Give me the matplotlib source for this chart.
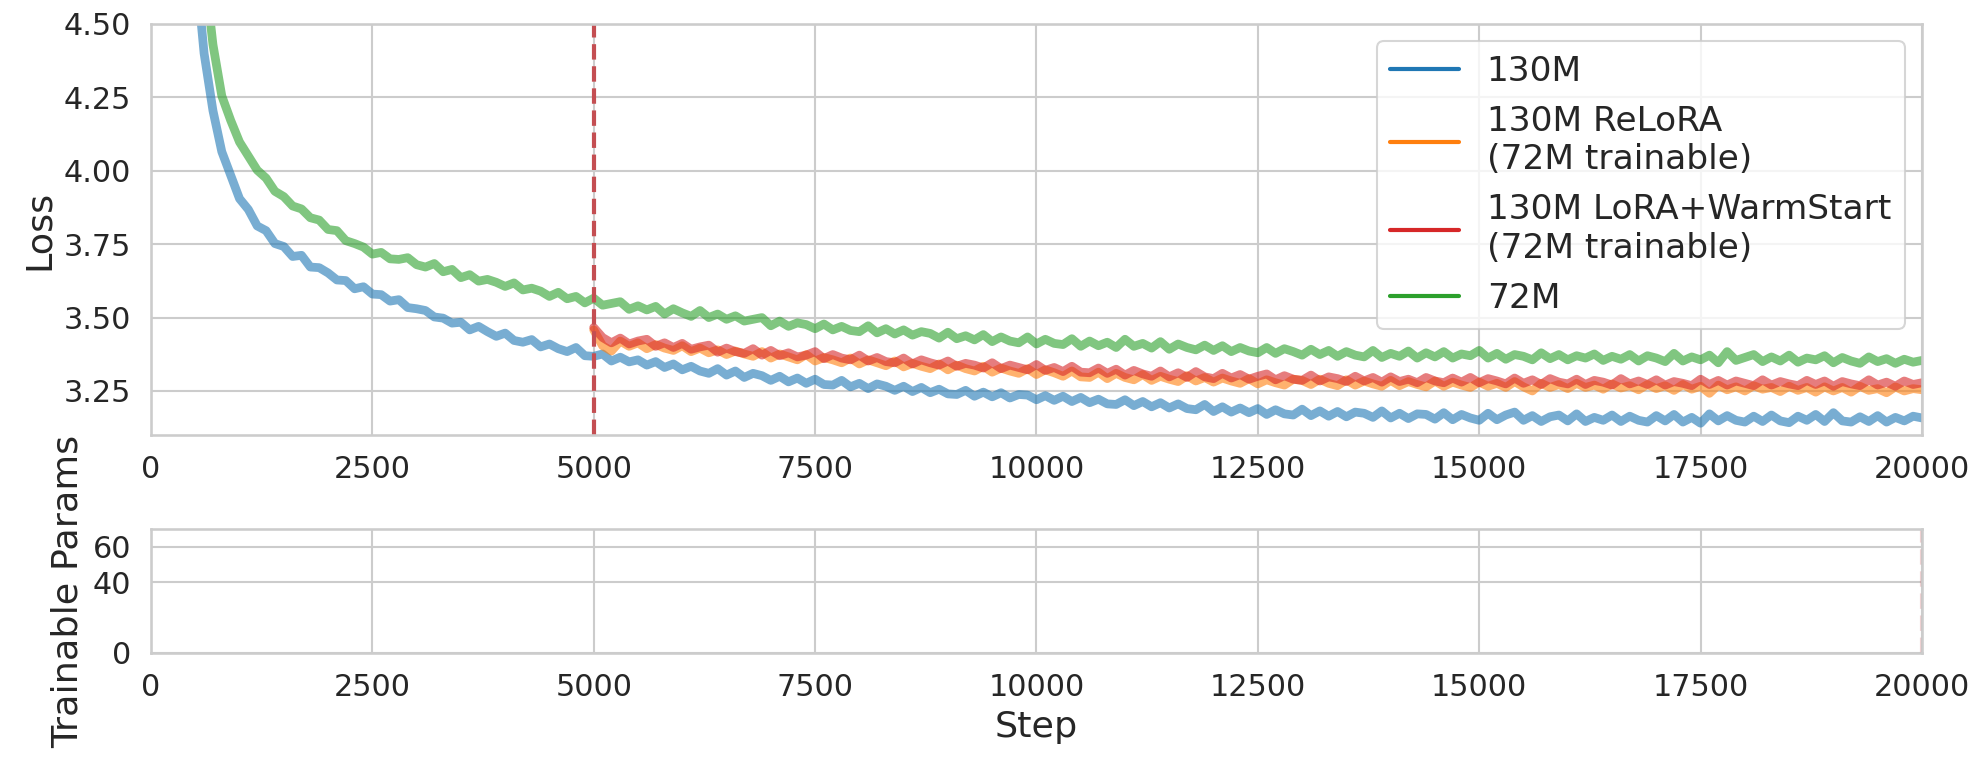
import numpy as np
import matplotlib
matplotlib.use("Agg")
import matplotlib.pyplot as plt
import seaborn as sns
from matplotlib.lines import Line2D

sns.set_theme(context="notebook", style="whitegrid")
plt.rcParams["font.family"] = ["DejaVu Sans"]

# ---------------- data ----------------
steps_130m = np.arange(500, 20001, 100)
loss_130m = [
    4.72, 4.40, 4.205, 4.065, 3.985, 3.905, 3.868, 3.812, 3.796, 3.752,
    3.742, 3.708, 3.712, 3.672, 3.670, 3.652, 3.628, 3.626, 3.598, 3.605,
    3.580, 3.578, 3.556, 3.561, 3.534, 3.530, 3.524, 3.502, 3.498, 3.481,
    3.484, 3.458, 3.470, 3.452, 3.436, 3.447, 3.422, 3.416, 3.425, 3.400,
    3.410, 3.394, 3.384, 3.398, 3.370, 3.368, 3.376, 3.352, 3.365, 3.349,
    3.356, 3.338, 3.350, 3.330, 3.342, 3.322, 3.334, 3.318, 3.310, 3.326,
    3.304, 3.318, 3.296, 3.310, 3.302, 3.286, 3.300, 3.281, 3.294, 3.276,
    3.290, 3.272, 3.270, 3.286, 3.264, 3.276, 3.258, 3.274, 3.266, 3.252,
    3.266, 3.248, 3.262, 3.244, 3.256, 3.240, 3.238, 3.252, 3.232, 3.246,
    3.230, 3.244, 3.226, 3.238, 3.236, 3.220, 3.234, 3.218, 3.232, 3.214,
    3.228, 3.210, 3.222, 3.206, 3.204, 3.220, 3.200, 3.214, 3.196, 3.210,
    3.192, 3.206, 3.190, 3.186, 3.204, 3.180, 3.196, 3.178, 3.192, 3.176,
    3.190, 3.170, 3.186, 3.172, 3.168, 3.188, 3.166, 3.182, 3.164, 3.180,
    3.162, 3.178, 3.174, 3.160, 3.182, 3.158, 3.174, 3.156, 3.172, 3.170,
    3.154, 3.176, 3.152, 3.170, 3.158, 3.150, 3.174, 3.152, 3.168, 3.178,
    3.150, 3.166, 3.146, 3.162, 3.168, 3.148, 3.172, 3.146, 3.160, 3.150,
    3.168, 3.146, 3.164, 3.150, 3.144, 3.166, 3.148, 3.170, 3.144, 3.160,
    3.140, 3.172, 3.148, 3.166, 3.150, 3.144, 3.164, 3.146, 3.168, 3.148,
    3.142, 3.164, 3.150, 3.170, 3.146, 3.176, 3.148, 3.144, 3.162, 3.146,
    3.166, 3.144, 3.160, 3.148, 3.164, 3.158,
]

steps_72m = np.arange(600, 20001, 100)
loss_72m = [
    4.70, 4.43, 4.255, 4.172, 4.098, 4.050, 4.002, 3.975, 3.930, 3.912,
    3.880, 3.870, 3.840, 3.832, 3.800, 3.796, 3.762, 3.752, 3.740, 3.716,
    3.722, 3.700, 3.698, 3.704, 3.680, 3.672, 3.684, 3.656, 3.664, 3.636,
    3.646, 3.624, 3.630, 3.620, 3.606, 3.618, 3.594, 3.600, 3.590, 3.572,
    3.586, 3.564, 3.572, 3.550, 3.566, 3.542, 3.548, 3.554, 3.528, 3.540,
    3.526, 3.538, 3.512, 3.530, 3.516, 3.504, 3.524, 3.500, 3.512, 3.494,
    3.506, 3.488, 3.494, 3.500, 3.472, 3.488, 3.470, 3.482, 3.476, 3.462,
    3.478, 3.458, 3.470, 3.456, 3.452, 3.472, 3.448, 3.462, 3.444, 3.458,
    3.440, 3.452, 3.446, 3.430, 3.450, 3.428, 3.438, 3.424, 3.442, 3.418,
    3.434, 3.420, 3.414, 3.434, 3.410, 3.426, 3.412, 3.408, 3.428, 3.402,
    3.420, 3.404, 3.416, 3.398, 3.426, 3.402, 3.412, 3.396, 3.418, 3.392,
    3.410, 3.398, 3.390, 3.406, 3.388, 3.404, 3.384, 3.398, 3.386, 3.380,
    3.398, 3.378, 3.394, 3.384, 3.372, 3.392, 3.374, 3.388, 3.368, 3.384,
    3.372, 3.366, 3.388, 3.364, 3.378, 3.368, 3.386, 3.362, 3.380, 3.366,
    3.384, 3.362, 3.376, 3.370, 3.388, 3.362, 3.378, 3.358, 3.374, 3.368,
    3.356, 3.380, 3.360, 3.374, 3.356, 3.370, 3.362, 3.376, 3.354, 3.368,
    3.358, 3.374, 3.352, 3.370, 3.362, 3.350, 3.378, 3.352, 3.366, 3.356,
    3.372, 3.346, 3.384, 3.354, 3.364, 3.374, 3.350, 3.366, 3.352, 3.372,
    3.348, 3.362, 3.356, 3.370, 3.346, 3.364, 3.352, 3.344, 3.366, 3.350,
    3.360, 3.344, 3.358, 3.348, 3.354,
]

steps_lora = np.arange(5000, 20001, 100)
loss_relora = [
    3.458, 3.404, 3.386, 3.420, 3.402, 3.414, 3.394, 3.408, 3.396, 3.388,
    3.404, 3.384, 3.396, 3.380, 3.390, 3.374, 3.386, 3.376, 3.368, 3.384,
    3.362, 3.376, 3.366, 3.356, 3.374, 3.352, 3.364, 3.356, 3.346, 3.362,
    3.342, 3.356, 3.346, 3.336, 3.352, 3.332, 3.344, 3.334, 3.326, 3.342,
    3.322, 3.338, 3.326, 3.318, 3.334, 3.314, 3.328, 3.318, 3.310, 3.326,
    3.306, 3.322, 3.312, 3.300, 3.318, 3.298, 3.296, 3.314, 3.292, 3.310,
    3.296, 3.288, 3.306, 3.286, 3.300, 3.290, 3.282, 3.302, 3.284, 3.296,
    3.280, 3.294, 3.284, 3.276, 3.292, 3.274, 3.288, 3.278, 3.270, 3.290,
    3.286, 3.272, 3.290, 3.276, 3.268, 3.288, 3.270, 3.284, 3.274, 3.266,
    3.286, 3.268, 3.282, 3.272, 3.264, 3.284, 3.266, 3.280, 3.270, 3.262,
    3.280, 3.266, 3.276, 3.262, 3.282, 3.264, 3.250, 3.276, 3.262, 3.272,
    3.258, 3.276, 3.262, 3.270, 3.256, 3.274, 3.260, 3.268, 3.254, 3.272,
    3.258, 3.268, 3.252, 3.272, 3.256, 3.266, 3.242, 3.270, 3.254, 3.264,
    3.250, 3.268, 3.256, 3.262, 3.248, 3.266, 3.252, 3.262, 3.246, 3.264,
    3.250, 3.262, 3.246, 3.266, 3.252, 3.258, 3.244, 3.264, 3.250, 3.258,
    3.254,
]
loss_lora_ws = [
    3.466, 3.432, 3.414, 3.430, 3.410, 3.420, 3.426, 3.402, 3.414, 3.398,
    3.412, 3.392, 3.400, 3.406, 3.382, 3.396, 3.384, 3.378, 3.394, 3.372,
    3.388, 3.370, 3.380, 3.366, 3.372, 3.384, 3.360, 3.374, 3.362, 3.356,
    3.372, 3.352, 3.364, 3.350, 3.346, 3.362, 3.342, 3.356, 3.346, 3.338,
    3.352, 3.334, 3.344, 3.338, 3.328, 3.346, 3.326, 3.338, 3.330, 3.322,
    3.340, 3.320, 3.330, 3.316, 3.334, 3.314, 3.312, 3.328, 3.310, 3.324,
    3.304, 3.320, 3.308, 3.300, 3.318, 3.298, 3.312, 3.296, 3.316, 3.298,
    3.292, 3.310, 3.294, 3.306, 3.290, 3.300, 3.308, 3.288, 3.302, 3.290,
    3.286, 3.304, 3.284, 3.298, 3.292, 3.282, 3.300, 3.284, 3.296, 3.280,
    3.298, 3.282, 3.290, 3.278, 3.296, 3.284, 3.278, 3.294, 3.280, 3.296,
    3.278, 3.292, 3.284, 3.274, 3.294, 3.276, 3.288, 3.272, 3.292, 3.280,
    3.274, 3.290, 3.272, 3.286, 3.280, 3.270, 3.292, 3.274, 3.284, 3.272,
    3.288, 3.270, 3.282, 3.276, 3.268, 3.290, 3.272, 3.286, 3.270, 3.284,
    3.276, 3.268, 3.288, 3.270, 3.282, 3.274, 3.268, 3.286, 3.272, 3.284,
    3.266, 3.282, 3.274, 3.268, 3.288, 3.270, 3.280, 3.266, 3.284, 3.272,
    3.278,
]

series_labels = ["130M", "130M ReLoRA\n(72M trainable)",
                 "130M LoRA+WarmStart\n(72M trainable)", "72M"]
series_colors = ["tab:blue", "tab:orange", "tab:red", "tab:green"]
reset_step = 5000

loss_ticks = [3.25, 3.50, 3.75, 4.00, 4.25, 4.50]
step_ticks = [0, 2500, 5000, 7500, 10000, 12500, 15000, 17500, 20000]
param_ticks = [0, 40, 60]

# ---------------- figure ----------------
fig = plt.figure(figsize=(1981 / 150, 768 / 150), dpi=150)
ax1 = fig.add_axes([0.0762, 0.4336, 0.894, 0.5352])
ax2 = fig.add_axes([0.0762, 0.150, 0.894, 0.161])

tick_fs = 14.5
label_fs = 17.5
legend_fs = 16.5

lw = 4.2
alpha = 0.6
ax1.plot(steps_130m, loss_130m, color=series_colors[0], lw=lw, alpha=alpha)
ax1.plot(steps_lora, loss_relora, color=series_colors[1], lw=lw, alpha=alpha)
ax1.plot(steps_lora, loss_lora_ws, color=series_colors[2], lw=lw, alpha=alpha)
ax1.plot(steps_72m, loss_72m, color=series_colors[3], lw=lw, alpha=alpha)
ax1.axvline(reset_step, color="#C44E52", ls="--", lw=2)

ax1.set_xlim(0, 20000)
ax1.set_ylim(3.1, 4.5)
ax1.set_yticks(loss_ticks)
ax1.set_yticklabels([f"{v:.2f}" for v in loss_ticks])
ax1.set_xticks(step_ticks)
ax1.set_ylabel("Loss", fontsize=label_fs)
ax1.tick_params(labelsize=tick_fs)

handles = [Line2D([0], [0], color=c, lw=2) for c in series_colors]
ax1.legend(handles, series_labels, loc="upper right", fontsize=legend_fs)

ax2.axvline(20000, color="#C44E52", ls="--", lw=2, alpha=0.25)
ax2.set_xlim(0, 20000)
ax2.set_ylim(0, 70)
ax2.set_yticks(param_ticks)
ax2.set_xticks(step_ticks)
ax2.set_ylabel("Trainable Params", fontsize=label_fs)
ax2.set_xlabel("Step", fontsize=label_fs)
ax2.tick_params(labelsize=tick_fs)

fig.savefig("out.png", dpi=150)
